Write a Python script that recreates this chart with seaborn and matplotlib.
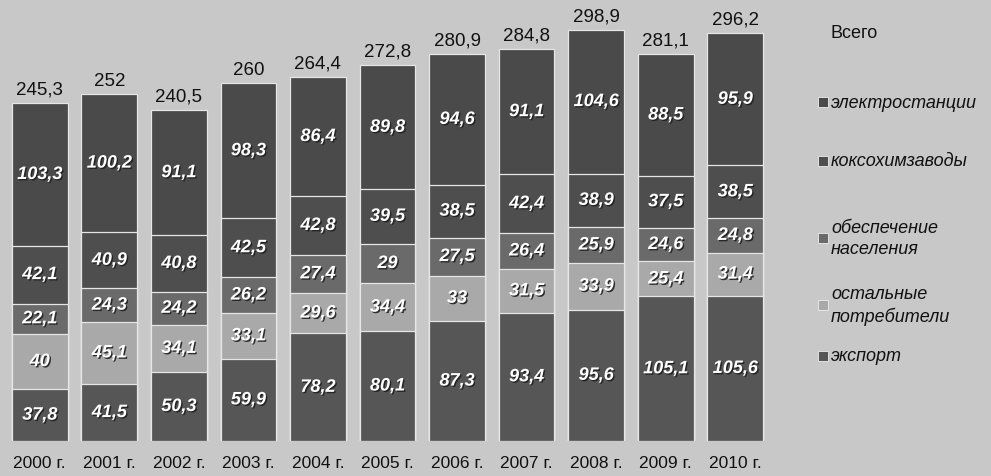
import numpy as np
import pandas as pd
import matplotlib
matplotlib.use("Agg")
import matplotlib.pyplot as plt
import matplotlib.patheffects as pe
import seaborn as sns

years = ["2000 г.", "2001 г.", "2002 г.", "2003 г.", "2004 г.", "2005 г.",
         "2006 г.", "2007 г.", "2008 г.", "2009 г.", "2010 г."]
export = [37.8, 41.5, 50.3, 59.9, 78.2, 80.1, 87.3, 93.4, 95.6, 105.1, 105.6]
other = [40, 45.1, 34.1, 33.1, 29.6, 34.4, 33, 31.5, 33.9, 25.4, 31.4]
population = [22.1, 24.3, 24.2, 26.2, 27.4, 29, 27.5, 26.4, 25.9, 24.6, 24.8]
coke = [42.1, 40.9, 40.8, 42.5, 42.8, 39.5, 38.5, 42.4, 38.9, 37.5, 38.5]
power = [103.3, 100.2, 91.1, 98.3, 86.4, 89.8, 94.6, 91.1, 104.6, 88.5, 95.9]
totals = [245.3, 252, 240.5, 260, 264.4, 272.8, 280.9, 284.8, 298.9, 281.1, 296.2]

series_names = ["экспорт", "остальные\nпотребители", "обеспечение\nнаселения",
                "коксохимзаводы", "электростанции"]
series = [export, other, population, coke, power]
colors = ["#565656", "#a9a9a9", "#6a6a6a", "#4e4e4e", "#4a4a4a"]

def fmt(v):
    s = ("%g" % v)
    return s.replace(".", ",")

bg = "#c8c8c8"
sns.set_theme(style="white")
plt.rcParams['font.family'] = ['Liberation Sans', 'DejaVu Sans']

fig = plt.figure(figsize=(9.91, 4.77), dpi=100, facecolor=bg)
ax = fig.add_axes([0.005, 0.073, 0.772, 0.895])
ax.set_facecolor(bg)

df = pd.DataFrame({"year": years})
cum = np.cumsum(np.array(series, dtype=float), axis=0)
# draw from the top layer down so each cumulative bar overlays the previous
for i in range(len(series) - 1, -1, -1):
    df["v"] = cum[i]
    sns.barplot(data=df, x="year", y="v", color=colors[i], saturation=1,
                width=0.8, edgecolor="#e6e6e6", linewidth=0.9, ax=ax)

shadow = [pe.withSimplePatchShadow(offset=(1, -1), shadow_rgbFace="#202020", alpha=0.9)]
for i in range(len(series)):
    base = cum[i] - np.array(series[i])
    for j in range(len(years)):
        ax.text(j, base[j] + series[i][j] / 2, fmt(series[i][j]), ha="center",
                va="center", color="white", fontsize=13, fontweight="bold",
                fontstyle="italic", path_effects=shadow)

for j in range(len(years)):
    ax.text(j, totals[j] + 4, fmt(totals[j]), ha="center", va="bottom",
            color="#111111", fontsize=13.5)

ax.set_xlim(-0.5, len(years) - 0.5)
ax.set_ylim(0, 310)
ax.set_xlabel("")
ax.set_ylabel("")
ax.set_yticks([])
ax.tick_params(axis="x", length=0, labelsize=12.5, labelcolor="#111111", pad=10)
for s in ax.spines.values():
    s.set_visible(False)

# legend
W, H = 991, 477
fig.text(831 / W, 1 - 33 / H, "Всего", fontsize=13, va="center", ha="left", color="#111111")
leg_y = [357, 306, 239, 162, 103]
for i in range(len(series)):
    y = 1 - leg_y[i] / H
    fig.patches.append(plt.Rectangle((818 / W, y - 5 / H), 10 / W, 10 / H,
                                     transform=fig.transFigure, facecolor=colors[i],
                                     edgecolor="#eeeeee", linewidth=0.6))
    fig.text(831 / W, y, series_names[i], fontsize=13, fontstyle="italic",
             va="center", ha="left", color="#111111", linespacing=1.3)

fig.savefig("out.png", dpi=100, facecolor=bg)
